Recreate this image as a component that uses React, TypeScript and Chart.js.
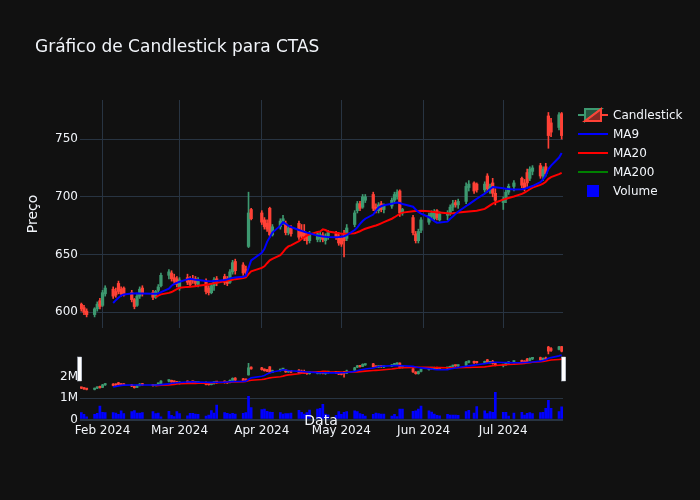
import React, { useEffect, useRef } from 'react';
import Chart from 'chart.js/auto';

const dates = [
  '2024-01-24', '2024-01-25', '2024-01-26', '2024-01-29', '2024-01-30', '2024-01-31',
  '2024-02-01', '2024-02-02', '2024-02-05', '2024-02-06', '2024-02-07', '2024-02-08', '2024-02-09',
  '2024-02-12', '2024-02-13', '2024-02-14', '2024-02-15', '2024-02-16', '2024-02-20', '2024-02-21',
  '2024-02-22', '2024-02-23', '2024-02-26', '2024-02-27', '2024-02-28', '2024-02-29',
  '2024-03-01', '2024-03-04', '2024-03-05', '2024-03-06', '2024-03-07', '2024-03-08', '2024-03-11',
  '2024-03-12', '2024-03-13', '2024-03-14', '2024-03-15', '2024-03-18', '2024-03-19', '2024-03-20',
  '2024-03-21', '2024-03-22', '2024-03-25', '2024-03-26', '2024-03-27', '2024-03-28',
  '2024-04-01', '2024-04-02', '2024-04-03', '2024-04-04', '2024-04-05', '2024-04-08', '2024-04-09',
  '2024-04-10', '2024-04-11', '2024-04-12', '2024-04-15', '2024-04-16', '2024-04-17', '2024-04-18',
  '2024-04-19', '2024-04-22', '2024-04-23', '2024-04-24', '2024-04-25', '2024-04-26', '2024-04-29',
  '2024-04-30',
  '2024-05-01', '2024-05-02', '2024-05-03', '2024-05-06', '2024-05-07', '2024-05-08', '2024-05-09',
  '2024-05-10', '2024-05-13', '2024-05-14', '2024-05-15', '2024-05-16', '2024-05-17', '2024-05-20',
  '2024-05-21', '2024-05-22', '2024-05-23', '2024-05-24', '2024-05-28', '2024-05-29', '2024-05-30',
  '2024-05-31',
  '2024-06-03', '2024-06-04', '2024-06-05', '2024-06-06', '2024-06-07', '2024-06-10', '2024-06-11',
  '2024-06-12', '2024-06-13', '2024-06-14', '2024-06-17', '2024-06-18', '2024-06-20', '2024-06-21',
  '2024-06-24', '2024-06-25', '2024-06-26', '2024-06-27', '2024-06-28',
  '2024-07-01', '2024-07-02', '2024-07-03', '2024-07-05', '2024-07-08', '2024-07-09', '2024-07-10',
  '2024-07-11', '2024-07-12', '2024-07-15', '2024-07-16', '2024-07-17', '2024-07-18', '2024-07-19',
  '2024-07-22', '2024-07-23',
];

const opens = [
  607, 604, 601, 598, 603, 610,
  606, 616, 620, 618, 625, 620, 621, 617, 611, 606, 614, 621, 617, 613, 619, 623, 632, 634, 630, 629,
  621, 630, 627, 629, 629, 624, 627, 621, 617, 623, 629, 631, 629, 626, 635, 644, 641, 637, 657, 689,
  686, 680, 677, 690, 667, 674, 679, 677, 669, 673, 677, 671, 670, 666, 662, 663, 664, 667, 662, 666, 668, 666,
  664, 668, 664, 676, 688, 694, 691, 697, 702, 691, 688, 694, 689, 692, 697, 700, 705, 686, 682, 668, 662, 671,
  678, 683, 681, 688, 680, 684, 686, 691, 695, 693, 696, 708, 712, 711, 706, 718, 706, 712, 703,
  695, 698, 704, 709, 716, 712, 721, 716, 722, 727, 718, 726, 770, 764, 760, 772,
];
const highs = [
  608, 606, 603, 604, 609, 612,
  619, 623, 622, 621, 627, 622, 622, 619, 612, 616, 622, 623, 619, 619, 624, 634, 637, 636, 633, 631,
  630, 633, 631, 632, 631, 630, 629, 623, 625, 630, 631, 633, 631, 637, 645, 646, 643, 640, 704, 690,
  688, 682, 680, 691, 676, 681, 684, 679, 675, 675, 679, 676, 676, 669, 670, 670, 670, 669, 668, 671, 670, 669,
  666, 671, 676, 688, 696, 696, 702, 702, 704, 694, 695, 696, 694, 699, 704, 706, 706, 690, 684, 670, 672, 682,
  686, 688, 689, 689, 687, 688, 693, 697, 697, 698, 712, 714, 713, 712, 713, 720, 711, 716, 707,
  700, 706, 711, 714, 717, 715, 724, 726, 727, 729, 726, 729, 773, 768, 773, 773,
];
const lows = [
  601, 598, 596, 596, 601, 603,
  605, 614, 612, 613, 616, 614, 614, 609, 603, 605, 612, 614, 611, 612, 617, 622, 629, 627, 625, 622,
  619, 624, 622, 625, 623, 622, 616, 615, 616, 619, 623, 624, 623, 625, 633, 633, 632, 633, 656, 680,
  676, 672, 670, 665, 666, 672, 676, 667, 667, 666, 663, 664, 662, 659, 660, 661, 661, 661, 659, 663, 663, 658,
  657, 648, 662, 674, 686, 688, 690, 695, 688, 686, 686, 687, 686, 690, 695, 698, 683, 684, 667, 660, 660, 669,
  676, 680, 680, 680, 679, 680, 684, 688, 691, 690, 694, 705, 703, 704, 704, 704, 703, 700, 693,
  689, 695, 702, 705, 708, 705, 709, 714, 719, 716, 714, 718, 742, 752, 758, 750,
];
const closes = [
  603, 600, 598, 603, 607, 605,
  617, 621, 614, 615, 618, 616, 615, 611, 605, 614, 620, 616, 613, 618, 622, 632, 635, 629, 627, 624,
  628, 626, 624, 627, 625, 628, 618, 617, 623, 628, 626, 626, 625, 635, 643, 636, 634, 635, 686, 681,
  678, 674, 672, 667, 674, 679, 681, 669, 673, 668, 665, 666, 664, 662, 668, 668, 667, 663, 666, 669, 665, 660,
  659, 662, 673, 686, 694, 690, 700, 700, 690, 688, 693, 689, 692, 697, 702, 704, 686, 689, 669, 662, 670, 680,
  684, 686, 687, 682, 685, 686, 691, 694, 693, 696, 709, 711, 705, 706, 711, 707, 709, 703, 697,
  698, 704, 709, 712, 710, 707, 712, 724, 725, 718, 724, 720, 753, 756, 771, 753,
];
const volumes = [
  320000, 240000, 130000, 240000, 290000, 620000,
  330000, 320000, 320000, 300000, 240000, 400000, 270000, 370000, 410000, 300000, 300000, 320000,
  370000, 270000, 300000, 130000, 380000, 190000, 140000, 370000,
  270000, 170000, 290000, 290000, 250000, 240000, 160000, 210000, 410000, 300000, 670000, 320000,
  290000, 250000, 290000, 250000, 290000, 320000, 1080000, 560000,
  460000, 490000, 380000, 350000, 330000, 320000, 250000, 270000, 270000, 300000, 430000, 330000,
  250000, 320000, 440000, 490000, 520000, 710000, 250000, 220000, 200000, 370000,
  240000, 330000, 370000, 400000, 370000, 270000, 240000, 160000, 240000, 300000, 270000, 250000,
  250000, 160000, 240000, 140000, 480000, 480000, 380000, 400000, 480000, 620000,
  400000, 350000, 250000, 190000, 170000, 240000, 210000, 210000, 210000, 190000, 370000, 430000,
  300000, 600000, 400000, 270000, 370000, 330000, 1270000,
  330000, 330000, 160000, 300000, 330000, 210000, 290000, 320000, 270000, 320000, 330000, 520000,
  890000, 520000, 370000, 590000,
];

const ma9 = [
  null, null, null, null, null, null, null, null,
  608, 610.5, 612.5, 614.5, 615.5, 616.2, 616.3, 616.4, 616.3, 616.3, 616.1, 616, 616.3, 617.5, 620.5, 623, 624.5, 625.5,
  626.5, 628.5, 629, 628.6, 628.2, 627.9, 627, 626.8, 626.8, 627, 627.2, 627.9, 628.5, 629.2, 629.8, 630.2, 630.8, 631.5, 638.5, 645,
  651.5, 655, 661, 665, 669, 675, 678, 676.5, 675, 673.8, 671.3, 670.5, 669.7, 669, 668.4, 666.4, 666, 665.7, 665.4, 665.2, 665, 665.2,
  665.5, 665.9, 666.8, 671.2, 673.5, 676.5, 679, 681, 684.6, 688, 690.7, 691.8, 692.6, 694, 694.5, 695, 694.6, 693.8, 691.4, 689, 686.8, 685.5,
  682.3, 680.7, 679, 677.6, 677.7, 678.5, 681, 683, 685, 687, 692, 693.5, 696.7, 698.3, 702.7, 704.6, 706.5, 708.4, 708.3,
  707.3, 707, 706.7, 706.3, 706.5, 707, 707.6, 708.5, 709.3, 712.7, 715, 718.5, 724, 727, 734, 738,
];
const ma20 = [
  null, null, null, null, null, null, null, null, null, null,
  null, null, null, null, null, null, null, null, null,
  613, 614.5, 615.5, 616.8, 617.5, 618.8, 620,
  621.2, 622, 622.2, 622.4, 622.6, 623, 623.9, 624.2, 624.7, 625.1, 625.6, 626.9, 627.4, 627.8, 628.2, 628.7, 629.7, 630.2, 633, 635.5,
  638.4, 639.8, 642.5, 645, 646.3, 649.5, 652, 655, 657, 658, 661.5, 663.5, 665, 666.5, 667.5, 669.5, 670, 671.8, 671.2, 670, 668.8, 668.4,
  668.1, 668, 668.1, 668.5, 669.3, 670.2, 671.3, 672.3, 674.5, 675.2, 676, 677, 678, 681, 682.3, 683.8, 685.2, 686.3, 687.4, 687.6, 687.8, 688,
  687.4, 687.1, 686.8, 686.5, 686.3, 685.7, 685.5, 685.7, 686, 686.3, 687, 687.2, 687.7, 688, 689.5, 691, 692.5, 694, 695.1,
  697.5, 698.3, 699, 700.3, 702.5, 703.6, 705, 706.5, 708, 710.3, 711.3, 713, 715.5, 717, 719.6, 720.7,
];
// only ~125 sessions, so the 200-day average never gets a value
const ma200: (number | null)[] = [];

const monthTicks = ['2024-02-01', '2024-03-01', '2024-04-01', '2024-05-01', '2024-06-01', '2024-07-01'];
const monthLabels = ['Feb 2024', 'Mar 2024', 'Apr 2024', 'May 2024', 'Jun 2024', 'Jul 2024'];
const priceTicks = [600, 650, 700, 750];
const volumeTicks = [0, 1000000, 2000000];
const volumeTickLabels = ['0', '1M', '2M'];

const BG = 'rgb(17,17,17)';
const GRID = '#283442';
const TEXT = '#f2f5fa';
const UP = '#3D9970';
const DOWN = '#FF4136';
const FONT = '"DejaVu Sans", Verdana, sans-serif';

const ORIGIN = Date.UTC(2024, 1, 1);
const toDay = (s: string) => (Date.parse(s + 'T00:00:00Z') - ORIGIN) / 86400000;

const days = dates.map(toDay);
const xMin = days[0] - 0.5;
const xMax = days[days.length - 1] + 0.5;
const candleColors = opens.map((o, i) => (closes[i] >= o ? UP : DOWN));

function candleDatasets(yAxisID: string, bodyWidth: number): any[] {
  return [
    {
      type: 'bar',
      data: days.map((d, i) => ({ x: d, y: [lows[i], highs[i]] })),
      backgroundColor: candleColors,
      barThickness: 1,
      grouped: false,
      yAxisID,
      order: 3,
    },
    {
      type: 'bar',
      data: days.map((d, i) => ({ x: d, y: [opens[i], closes[i]] })),
      backgroundColor: candleColors,
      barThickness: bodyWidth,
      minBarLength: 1.5,
      grouped: false,
      yAxisID,
      order: 2,
    },
  ];
}

function lineDataset(values: (number | null)[], color: string, yAxisID: string, width: number): any {
  return {
    type: 'line',
    data: days.map((d, i) => ({ x: d, y: values[i] ?? null })),
    borderColor: color,
    borderWidth: width,
    pointRadius: 0,
    tension: 0,
    yAxisID,
    order: 0,
  };
}

const monthAxis = (showLabels: boolean, showGrid: boolean): any => ({
  type: 'linear',
  min: xMin,
  max: xMax,
  offset: false,
  afterBuildTicks: (s: any) => {
    s.ticks = monthTicks.map((t) => ({ value: toDay(t) }));
  },
  afterFit: (s: any) => {
    s.height = showLabels ? 20 : 0;
  },
  ticks: {
    display: showLabels,
    autoSkip: false,
    maxRotation: 0,
    padding: 4,
    color: TEXT,
    font: { family: FONT, size: 12 },
    callback: (_v: any, i: number) => monthLabels[i],
  },
  grid: { display: showGrid, color: GRID, drawTicks: false, offset: false },
  border: { display: false },
});

const handlesPlugin = {
  id: 'sliderHandles',
  afterDraw(chart: any) {
    const { ctx, chartArea } = chart;
    const top = chartArea.top + 12;
    ctx.save();
    ctx.fillStyle = '#ffffff';
    ctx.strokeStyle = '#bec8d9';
    ctx.lineWidth = 0.5;
    [chartArea.left - 0.3, chartArea.right + 0.7].forEach((cx: number) => {
      ctx.fillRect(cx - 2, top, 4, 24);
      ctx.strokeRect(cx - 2, top, 4, 24);
    });
    ctx.restore();
  },
};

const PriceChart: React.FC = () => {
  const canvasRef = useRef<HTMLCanvasElement>(null);

  useEffect(() => {
    const canvas = canvasRef.current;
    let chart: Chart | null = null;
    if (canvas) {
      chart = new Chart(canvas, {
        type: 'bar',
        data: {
          datasets: [
            ...candleDatasets('y', 2.6),
            lineDataset(ma9, '#0000ff', 'y', 2),
            lineDataset(ma20, '#ff0000', 'y', 2),
            lineDataset(ma200, '#008000', 'y', 2),
          ],
        },
        options: {
          animation: false,
          responsive: true,
          maintainAspectRatio: false,
          events: [],
          layout: { padding: { left: 21, right: 137, top: 100, bottom: 172 } },
          plugins: { legend: { display: false }, tooltip: { enabled: false } },
          scales: {
            x: monthAxis(false, true),
            y: {
              type: 'linear',
              min: 586.4,
              max: 783.8,
              afterBuildTicks: (s: any) => {
                s.ticks = priceTicks.map((v) => ({ value: v }));
              },
              afterFit: (s: any) => {
                s.width = 59;
              },
              ticks: { color: TEXT, padding: 2, font: { family: FONT, size: 12 } },
              grid: { color: GRID, drawTicks: false },
              border: { display: false },
              title: {
                display: true,
                text: 'Preço',
                color: TEXT,
                font: { family: FONT, size: 14 },
                padding: { top: 4, bottom: 0 },
              },
            },
          },
        } as any,
      });
    }
    return () => {
      if (chart) chart.destroy();
    };
  }, []);

  return <canvas ref={canvasRef}></canvas>;
};

const LowerChart: React.FC = () => {
  const canvasRef = useRef<HTMLCanvasElement>(null);

  useEffect(() => {
    const canvas = canvasRef.current;
    let chart: Chart | null = null;
    if (canvas) {
      chart = new Chart(canvas, {
        type: 'bar',
        data: {
          datasets: [
            {
              type: 'bar',
              data: days.map((d, i) => ({ x: d, y: volumes[i] })),
              backgroundColor: '#0000ff',
              barThickness: 2,
              grouped: false,
              yAxisID: 'yv',
              order: 4,
            },
            ...candleDatasets('ys', 2.2),
            lineDataset(ma9, '#0000ff', 'ys', 1.6),
            lineDataset(ma20, '#ff0000', 'ys', 1.6),
          ] as any,
        },
        options: {
          animation: false,
          responsive: true,
          maintainAspectRatio: false,
          events: [],
          layout: { padding: { left: 21, right: 137, top: 345, bottom: 60.5 } },
          plugins: { legend: { display: false }, tooltip: { enabled: false } },
          scales: {
            x: monthAxis(true, false),
            yv: {
              type: 'linear',
              position: 'left',
              min: 0,
              max: 3470000,
              afterBuildTicks: (s: any) => {
                s.ticks = volumeTicks.map((v) => ({ value: v }));
              },
              afterFit: (s: any) => {
                s.width = 59;
              },
              ticks: {
                color: TEXT,
                padding: 2,
                font: { family: FONT, size: 12 },
                callback: (_v: any, i: number) => volumeTickLabels[i],
              },
              grid: {
                drawTicks: false,
                color: (c: any) => (c.tick && c.tick.value === volumeTicks[2] ? 'rgba(0,0,0,0)' : GRID),
                lineWidth: (c: any) => (c.tick && c.tick.value === 0 ? 2 : 1),
              },
              border: { display: false },
            },
            ys: {
              type: 'linear',
              display: false,
              min: 476.5,
              max: 778,
            },
          },
        } as any,
        plugins: [handlesPlugin],
      });
    }
    return () => {
      if (chart) chart.destroy();
    };
  }, []);

  return <canvas ref={canvasRef}></canvas>;
};

const layer: React.CSSProperties = { position: 'absolute', left: 0, top: 0, width: 700, height: 500 };
const text: React.CSSProperties = { position: 'absolute', color: TEXT, fontFamily: FONT, whiteSpace: 'nowrap' };

const legendRows = [
  { label: 'Candlestick', y: 114.5 },
  { label: 'MA9', y: 133.5 },
  { label: 'MA20', y: 152.5 },
  { label: 'MA200', y: 171.5 },
  { label: 'Volume', y: 190.5 },
];

function Swatch({ index }: { index: number }) {
  if (index === 0) {
    return (
      <svg width={40} height={20}>
        <path d="M5,10H12M12,16V4H28Z" fill="rgba(61,153,112,0.5)" stroke={UP} strokeWidth={2} />
        <path d="M35,10H28M28,4V16H12Z" fill="rgba(255,65,54,0.5)" stroke={DOWN} strokeWidth={2} />
      </svg>
    );
  }
  if (index === 4) {
    return (
      <svg width={40} height={20}>
        <rect x={14} y={4} width={12} height={12} fill="#0000ff" />
      </svg>
    );
  }
  const colors = ['', '#0000ff', '#ff0000', '#008000'];
  return (
    <svg width={40} height={20}>
      <line x1={5} y1={10} x2={35} y2={10} stroke={colors[index]} strokeWidth={2} />
    </svg>
  );
}

const App: React.FC = () => {
  return (
    <div style={{ ...layer, background: BG, overflow: 'hidden' }}>
      <div style={layer}>
        <PriceChart />
      </div>
      <div style={{ ...layer, pointerEvents: 'none' }}>
        <LowerChart />
      </div>
      <div style={{ ...text, left: 35, top: 35, fontSize: 17, lineHeight: '22px' }}>
        Gráfico de Candlestick para CTAS
      </div>
      {legendRows.map((r, i) => (
        <React.Fragment key={r.label}>
          <div style={{ position: 'absolute', left: 573, top: r.y - 10, width: 40, height: 20 }}>
            <Swatch index={i} />
          </div>
          <div style={{ ...text, left: 613, top: r.y - 8, fontSize: 12, lineHeight: '16px' }}>{r.label}</div>
        </React.Fragment>
      ))}
      <div
        style={{
          ...text,
          left: 271,
          width: 100,
          textAlign: 'center',
          top: 409.5,
          fontSize: 14,
          lineHeight: '20px',
        }}
      >
        Data
      </div>
    </div>
  );
};

export default App;
